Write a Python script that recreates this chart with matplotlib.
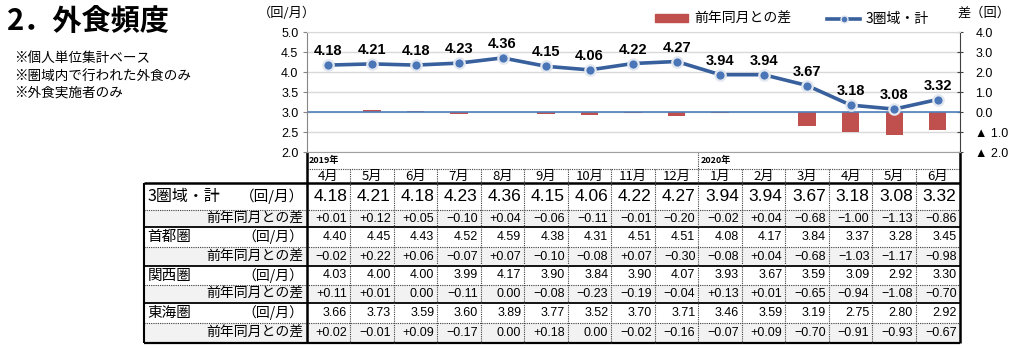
import numpy as np
import matplotlib
matplotlib.use('Agg')
import matplotlib.pyplot as plt
from matplotlib.lines import Line2D
from matplotlib.patches import Patch, Rectangle
from matplotlib.ticker import FuncFormatter

plt.rcParams['font.family'] = ['Noto Sans CJK JP', 'DejaVu Sans']

# data
months = ['4月', '5月', '6月', '7月', '8月', '9月', '10月', '11月', '12月',
          '1月', '2月', '3月', '4月', '5月', '6月']
years = {0: '2019年', 9: '2020年'}

total = [4.18, 4.21, 4.18, 4.23, 4.36, 4.15, 4.06, 4.22, 4.27, 3.94, 3.94, 3.67, 3.18, 3.08, 3.32]
total_diff = [0.01, 0.12, 0.05, -0.10, 0.04, -0.06, -0.11, -0.01, -0.20, -0.02, 0.04, -0.68, -1.00, -1.13, -0.86]
shuto = [4.40, 4.45, 4.43, 4.52, 4.59, 4.38, 4.31, 4.51, 4.51, 4.08, 4.17, 3.84, 3.37, 3.28, 3.45]
shuto_diff = [-0.02, 0.22, 0.06, -0.07, 0.07, -0.10, -0.08, 0.07, -0.30, -0.08, 0.04, -0.68, -1.03, -1.17, -0.98]
kansai = [4.03, 4.00, 4.00, 3.99, 4.17, 3.90, 3.84, 3.90, 4.07, 3.93, 3.67, 3.59, 3.09, 2.92, 3.30]
kansai_diff = [0.11, 0.01, 0.00, -0.11, 0.00, -0.08, -0.23, -0.19, -0.04, 0.13, 0.01, -0.65, -0.94, -1.08, -0.70]
tokai = [3.66, 3.73, 3.59, 3.60, 3.89, 3.77, 3.52, 3.70, 3.71, 3.46, 3.59, 3.19, 2.75, 2.80, 2.92]
tokai_diff = [0.02, -0.01, 0.09, -0.17, 0.00, 0.18, 0.00, -0.02, -0.16, -0.07, 0.09, -0.70, -0.91, -0.93, -0.67]

regions = ['3圏域・計', '首都圏', '関西圏', '東海圏']
unit_label = '（回/月）'
diff_label = '前年同月との差'

LINE_C = '#37609C'
BAR_C = '#C0504D'
NUM_FONT = ['Liberation Sans', 'DejaVu Sans']

W, H = 1024, 350
fig = plt.figure(figsize=(W / 100, H / 100), dpi=100)

# layout (pixels)
x_left, x_right = 306.7, 959.5
y_top, y_bot = 32.3, 152.3
tab_left = 143.5

# ---- chart ----
ax = fig.add_axes([x_left / W, 1 - y_bot / H, (x_right - x_left) / W, (y_bot - y_top) / H])
ax2 = ax.twinx()
ax.set_zorder(ax2.get_zorder() + 1)
ax.patch.set_visible(False)

x = np.arange(len(months))
ax2.bar(x, total_diff, width=0.4, color=BAR_C, zorder=2)
ax2.axhline(0, color='#4F81BD', lw=1.2, zorder=3)
ax2.set_ylim(-2, 4)
ax2.set_yticks(np.arange(-2, 4.01, 1))
ax2.yaxis.grid(True, color='#D9D9D9', lw=1)
ax2.set_axisbelow(True)
ax2.yaxis.set_major_formatter(FuncFormatter(
    lambda v, p: f'▲ {abs(v):.1f}' if v < 0 else f'{v:.1f}'))
ax2.tick_params(axis='y', direction='inout', length=5, pad=9, labelsize=9,
                color='#404040')

ax.plot(x, total, color=LINE_C, lw=2.6, marker='o', ms=7.5,
        mfc='#4A76B8', mec='#E2E7F0', mew=1.6, zorder=5)
for xi, v in zip(x, total):
    ax.annotate(f'{v:.2f}', (xi, v), xytext=(0, 5), textcoords='offset points',
                ha='center', va='bottom', fontsize=10.5, fontweight='bold',
                family=NUM_FONT)
ax.set_xlim(-0.5, len(months) - 0.5)
ax.set_ylim(2, 5)
ax.set_yticks(np.arange(2, 5.01, 0.5))
ax.yaxis.set_major_formatter(FuncFormatter(lambda v, p: f'{v:.1f}'))
ax.set_xticks([])
ax.tick_params(axis='y', length=3, pad=3, labelsize=9, color='#868686')
for lab in ax.get_yticklabels() + ax2.get_yticklabels():
    lab.set_family(NUM_FONT)

ax2.spines[['left', 'top', 'bottom']].set_visible(False)
ax2.spines['right'].set_color('#404040')
ax.spines['right'].set_visible(False)
ax.spines['top'].set_color('#D9D9D9')
ax.spines['bottom'].set_color('#A0A0A0')
ax.spines['left'].set_color('#868686')

fig.text(258 / W, 1 - 13 / H, '（回/月）', fontsize=9.5, va='center')
fig.text(957 / W, 1 - 13 / H, '差（回）', fontsize=9.5, va='center')

handles = [Patch(color=BAR_C),
           Line2D([], [], color=LINE_C, lw=2.6, marker='o', ms=5,
                  mfc='#4A76B8', mec='#E2E7F0')]
fig.legend(handles, ['前年同月との差', '3圏域・計'], loc='center left',
           bbox_to_anchor=(648 / W, 1 - 19 / H), ncol=2, frameon=False,
           fontsize=10, handlelength=2.4, handleheight=0.5, columnspacing=2.6,
           handletextpad=0.4, borderpad=0)

# ---- title / notes ----
fig.text(7 / W, 1 - 21 / H, '2．外食頻度', fontsize=21, fontweight='bold', va='center')
notes = ['※個人単位集計ベース', '※圏域内で行われた外食のみ', '※外食実施者のみ']
for k, t in enumerate(notes):
    fig.text(14 / W, 1 - (58 + 17.5 * k) / H, t, fontsize=9.8, va='center')

# ---- table ----
tax = fig.add_axes([0, 0, 1, 1], zorder=-1)
tax.set_xlim(0, W)
tax.set_ylim(H, 0)
tax.axis('off')

col_w = (x_right - x_left) / len(months)
col_edges = x_left + col_w * np.arange(len(months) + 1)
row_edges = [183, 210, 227, 247, 266, 285, 303, 323, 343]

table_rows = [(regions[0], total, total_diff),
              (regions[1], shuto, shuto_diff),
              (regions[2], kansai, kansai_diff),
              (regions[3], tokai, tokai_diff)]


def fmt_diff(v):
    if abs(v) < 0.005:
        return '0.00'
    return ('+' if v > 0 else '\u2212') + f'{abs(v):.2f}'


for r, (name, vals, diffs) in enumerate(table_rows):
    y0, y1, y2 = row_edges[2 * r], row_edges[2 * r + 1], row_edges[2 * r + 2]
    tax.add_patch(Rectangle((tab_left, y1), x_right - tab_left, y2 - y1,
                            fc='#F2F2F2', ec='none'))
    ym, yd = (y0 + y1) / 2, (y1 + y2) / 2
    big = (r == 0)
    tax.text(tab_left + 4, ym, name, fontsize=11.5 if big else 10.5, va='center')
    tax.text(x_left - 3, ym, unit_label, fontsize=10.5 if big else 10,
             va='center', ha='right')
    tax.text(x_left - 3, yd, diff_label, fontsize=10, va='center', ha='right')
    for i in range(len(months)):
        tax.text(col_edges[i + 1] - 3, ym, f'{vals[i]:.2f}', ha='right', va='center',
                 fontsize=12.5 if big else 9, family=NUM_FONT)
        tax.text(col_edges[i + 1] - 3, yd, fmt_diff(diffs[i]), ha='right', va='center',
                 fontsize=9, family=NUM_FONT)

for i, m in enumerate(months):
    tax.text((col_edges[i] + col_edges[i + 1]) / 2, 176.5, m, ha='center',
             va='center', fontsize=9.5)
for i, yl in years.items():
    tax.text(col_edges[i] + 2, 160.5, yl, ha='left', va='center', fontsize=6.5,
             fontweight='bold')

dot = dict(color='#404040', lw=0.8, linestyles=(0, (1, 1)))
tax.hlines(169, x_left, x_right, **dot)
tax.hlines(183, tab_left, x_right, color='black', lw=1.8)
for k, yy in enumerate(row_edges[1:-1]):
    if k % 2 == 0:
        tax.hlines(yy, tab_left, x_right, **dot)
    else:
        tax.hlines(yy, tab_left, x_right, color='black', lw=1.3)
tax.hlines(row_edges[-1], tab_left, x_right, color='black', lw=1.6)
tax.vlines(tab_left, 183, row_edges[-1], color='black', lw=1.5)
tax.vlines([x_left, x_right], y_bot, row_edges[-1], color='black', lw=1.8)
for i in range(1, len(months)):
    top = y_bot if i in years else 169
    tax.vlines(col_edges[i], top, row_edges[-1], **dot)

fig.savefig('out.png', dpi=100)
